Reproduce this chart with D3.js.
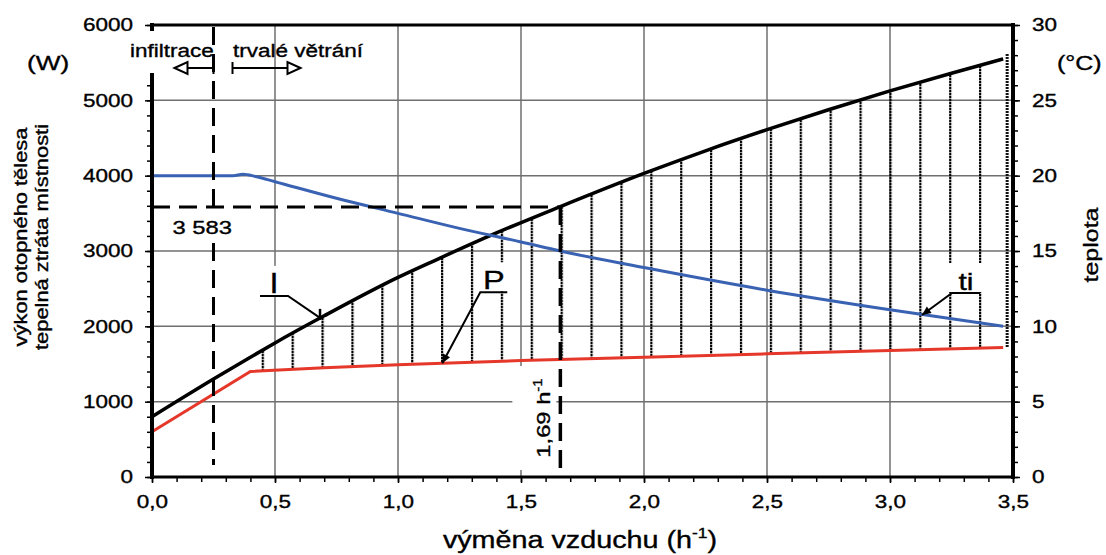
<!DOCTYPE html>
<html>
<head>
<meta charset="utf-8">
<script src="https://cdn.jsdelivr.net/npm/d3@7"></script>
<style>
  body { margin: 0; background: #fff; }
  svg { display: block; font-family: "Liberation Sans", Arial, sans-serif; }
  svg text { stroke: #000; stroke-width: 0.35; }
</style>
</head>
<body>
<svg id="chart" width="1106" height="555"></svg>
<script>
// --- data ---
// heat loss of the room (W), black curve "l"
const lossX = [0, 0.25, 0.4, 0.5, 0.7, 1.0, 1.16, 1.4, 1.66, 2.0, 2.25, 2.5, 2.75, 3.0, 3.25, 3.46];
const lossW = [800, 1300, 1590, 1780, 2140, 2650, 2890, 3240, 3590, 4030, 4330, 4610, 4875, 5125, 5360, 5550];
// output of the heating body (W), red curve "P"
const powerX = [0, 0.4, 0.7, 1.0, 1.5, 2.0, 2.5, 3.0, 3.46];
const powerW = [600, 1400, 1450, 1490, 1545, 1590, 1635, 1680, 1720];
// indoor temperature (°C), blue curve "ti"
const tempX = [0, 0.33, 0.37, 0.42, 0.5, 0.75, 1.0, 1.25, 1.5, 1.66, 2.0, 2.5, 3.0, 3.46];
const tempC = [20, 20, 20.1, 19.95, 19.6, 18.5, 17.5, 16.5, 15.6, 15.0, 13.9, 12.4, 11.1, 10.0];

const xTicks = [0, 0.5, 1, 1.5, 2, 2.5, 3, 3.5];
const wTicks = [0, 1000, 2000, 3000, 4000, 5000, 6000];
const cTicks = [0, 5, 10, 15, 20, 25, 30];

const infiltrLimit = 0.25;   // border infiltration / ventilation
const designRate = 1.66;     // where the dashed design line is drawn
const designLabel = '1,69';
const designLoad = 3583;
const hatchStart = 0.45, hatchStep = 0.1215;

// callouts: label, x on curve, value on curve
const calloutL = { text: 'l', at: 0.683, v: 2112 };
const calloutP = { text: 'P', at: 1.18, v: 1510 };
const calloutT = { text: 'ti', at: 3.13, v: 10.75 };

// --- setup ---
const SX = 1.25; // the lettering in the source is set wide
const svg = d3.select('#chart');
const x = d3.scaleLinear().domain([0, 3.5]).range([152, 1013]);
const y = d3.scaleLinear().domain([0, 6000]).range([477, 25]);
const yT = d3.scaleLinear().domain([0, 30]).range([477, 25]);
const comma = d => d3.format('.1f')(d).replace('.', ',');

svg.append('rect').attr('width', 1106).attr('height', 555).attr('fill', '#fff');

function label(g, px, py, str, size, opts = {}) {
  return g.append('text')
    .attr('transform', `translate(${px},${py}) rotate(${opts.rot || 0}) scale(${SX},1)`)
    .attr('font-size', size)
    .attr('text-anchor', opts.anchor || 'start')
    .attr('fill', '#000')
    .text(str);
}

// --- grid ---
const grid = svg.append('g').attr('stroke', '#6f6f6f').attr('stroke-width', 1.5);
grid.selectAll('.gx').data(xTicks.slice(1, -1)).join('line')
  .attr('x1', d => x(d)).attr('x2', d => x(d)).attr('y1', y(6000)).attr('y2', y(0));
grid.selectAll('.gy').data(wTicks.slice(1, -1)).join('line')
  .attr('x1', x(0)).attr('x2', x(3.5)).attr('y1', d => y(d)).attr('y2', d => y(d));

// --- hatch between loss and power ---
const defs = svg.append('defs');
const step = x(hatchStep) - x(0);
defs.append('pattern').attr('id', 'hatch')
  .attr('patternUnits', 'userSpaceOnUse')
  .attr('x', x(hatchStart) - 1).attr('y', 0)
  .attr('width', step).attr('height', 3)
  .append('rect').attr('width', 2.2).attr('height', 2.4).attr('fill', '#000');

const lossPts = lossX.map((v, i) => [v, lossW[i]]);
const powerPts = powerX.map((v, i) => [v, powerW[i]]);
const band = lossPts.filter(d => d[0] >= 0.4).concat(powerPts.filter(d => d[0] >= 0.4).reverse());
svg.append('path')
  .attr('d', d3.line().x(d => x(d[0])).y(d => y(d[1]))(band) + 'Z')
  .attr('fill', 'url(#hatch)');
const lastL = lossPts[lossPts.length - 1], lastP = powerPts[powerPts.length - 1];
svg.append('line')
  .attr('x1', x(lastL[0]) + 4).attr('x2', x(lastL[0]) + 4)
  .attr('y1', y(lastL[1]) - 5).attr('y2', y(lastP[1]))
  .attr('stroke', '#111').attr('stroke-width', 3).attr('stroke-dasharray', '2,1');

// --- curves ---
svg.append('path')
  .attr('d', d3.line().x(d => x(d[0])).y(d => y(d[1]))(powerPts))
  .attr('fill', 'none').attr('stroke', '#e5372a').attr('stroke-width', 3);
svg.append('path')
  .attr('d', d3.line().curve(d3.curveMonotoneX).x(d => x(d[0])).y(d => y(d[1]))(lossPts))
  .attr('fill', 'none').attr('stroke', '#000').attr('stroke-width', 3.5);
svg.append('path')
  .attr('d', d3.line().curve(d3.curveMonotoneX).x((d, i) => x(d)).y((d, i) => yT(tempC[i]))(tempX))
  .attr('fill', 'none').attr('stroke', '#3a62b3').attr('stroke-width', 3);

// --- frame ---
const frame = svg.append('g').attr('stroke', '#000').attr('stroke-linecap', 'square');
frame.append('line').attr('x1', x(0)).attr('x2', x(3.5)).attr('y1', y(6000)).attr('y2', y(6000)).attr('stroke-width', 3);
frame.append('line').attr('x1', x(0)).attr('x2', x(3.5)).attr('y1', y(0)).attr('y2', y(0)).attr('stroke-width', 3);
frame.append('line').attr('x1', x(0)).attr('x2', x(0)).attr('y1', y(6000)).attr('y2', y(0)).attr('stroke-width', 4);
frame.append('line').attr('x1', x(3.5)).attr('x2', x(3.5)).attr('y1', y(6000)).attr('y2', y(0)).attr('stroke-width', 4);

// --- axes ---
function styleAxis(g, size) {
  g.select('.domain').remove();
  g.attr('font-family', null).attr('font-size', size);
  g.selectAll('line').attr('stroke', '#000').attr('stroke-width', 1.5);
}
svg.append('g').attr('transform', `translate(${x(0)},0)`)
  .call(d3.axisLeft(y).tickValues(d3.range(0, 6001, 200)).tickSize(5).tickFormat(''))
  .call(g => styleAxis(g, 18));
svg.append('g').attr('transform', `translate(${x(0)},0)`)
  .call(d3.axisLeft(y).tickValues(wTicks).tickSize(7).tickPadding(12).tickFormat(d3.format('d')))
  .call(g => styleAxis(g, 18))
  .call(g => g.selectAll('text').attr('transform', `scale(${SX},1)`).attr('x', -19 / SX));

svg.append('g').attr('transform', `translate(${x(3.5)},0)`)
  .call(d3.axisRight(yT).tickValues(d3.range(0, 31, 1)).tickSize(5).tickFormat(''))
  .call(g => styleAxis(g, 18));
svg.append('g').attr('transform', `translate(${x(3.5)},0)`)
  .call(d3.axisRight(yT).tickValues(cTicks).tickSize(7).tickPadding(12))
  .call(g => styleAxis(g, 18))
  .call(g => g.selectAll('text').attr('transform', `scale(${SX},1)`).attr('x', 19 / SX));

svg.append('g').attr('transform', `translate(0,${y(0)})`)
  .call(d3.axisBottom(x).tickValues(d3.range(0, 35.5, 1).map(d => d / 10)).tickSize(5).tickFormat(''))
  .call(g => styleAxis(g, 18));
svg.append('g').attr('transform', `translate(0,${y(0)})`)
  .call(d3.axisBottom(x).tickValues(xTicks).tickSize(6).tickPadding(12).tickFormat(comma))
  .call(g => styleAxis(g, 18))
  .call(g => g.selectAll('text').attr('transform', `scale(${SX},1)`));

// --- dashed guides ---
const dash = svg.append('g').attr('stroke', '#000').attr('stroke-width', 3).attr('stroke-dasharray', '18,9').attr('fill', 'none');
dash.append('line').attr('x1', x(infiltrLimit)).attr('x2', x(infiltrLimit)).attr('y1', y(6000) + 2).attr('y2', y(160));
dash.append('line').attr('x1', x(0)).attr('x2', x(designRate)).attr('y1', y(designLoad)).attr('y2', y(designLoad));

// --- white label boxes ---
const box = svg.append('g').attr('fill', '#fff');
box.append('rect').attr('x', 126).attr('y', 31).attr('width', 84).attr('height', 42);
box.append('rect').attr('x', x(infiltrLimit) - 45).attr('y', y(designLoad) + 5).attr('width', 80).attr('height', 30);
box.append('rect').attr('x', x(designRate) - 48).attr('y', 366).attr('width', 44).attr('height', 104);

const ann = svg.append('g');
// design rate line on top of its box
svg.append('line').attr('x1', x(designRate)).attr('x2', x(designRate))
  .attr('y1', y(designLoad)).attr('y2', y(0))
  .attr('stroke', '#000').attr('stroke-width', 3.5).attr('stroke-dasharray', '18,9');

// --- callouts ---
function callout(c, scale, dx, dy, len, size) {
  const ax = x(c.at), ay = scale(c.v);
  const ex = ax + dx, ey = ay + dy;
  const tx = ex + len / 2;
  ann.append('rect').attr('x', Math.min(ex, ex + len) - 4).attr('y', ey - 30)
    .attr('width', Math.abs(len) + 8).attr('height', 29).attr('fill', '#fff');
  ann.append('path')
    .attr('d', `M${ex + len},${ey}H${ex}L${ax},${ay}`)
    .attr('fill', 'none').attr('stroke', '#000').attr('stroke-width', 2);
  label(ann, tx, ey - 3, c.text, size, { anchor: 'middle' });
  return [ax, ay];
}
const pL = callout(calloutL, y, -32, -22, -28, 27);
ann.append('line').attr('x1', pL[0]).attr('x2', pL[0]).attr('y1', pL[1] - 9).attr('y2', pL[1] + 2)
  .attr('stroke', '#000').attr('stroke-width', 2.5);
const pP = callout(calloutP, y, 38, -71, 27, 26);
const pT = callout(calloutT, yT, 30, -22, 28, 24);
[[pP, [38, -71]], [pT, [30, -22]]].forEach(([p, d]) => {
  const a = Math.atan2(d[1], d[0]);
  const l = 9, w = 4;
  const bx = p[0] + Math.cos(a) * l, by = p[1] + Math.sin(a) * l;
  const nx = -Math.sin(a) * w, ny = Math.cos(a) * w;
  ann.append('path')
    .attr('d', `M${p[0]},${p[1]}L${bx + nx},${by + ny}L${bx - nx},${by - ny}Z`)
    .attr('fill', '#000');
});

// --- texts ---
const t = svg.append('g');
label(t, 130, 57, 'infiltrace', 18);
label(t, 233, 57, 'trvalé větrání', 18);
label(t, x(infiltrLimit) - 41, y(designLoad) + 27, d3.format(',')(designLoad).replace(',', ' '), 19);

const r = label(t, x(designRate) - 10, 418, '', 19, { rot: -90, anchor: 'middle' });
r.append('tspan').text(designLabel + ' h');
r.append('tspan').attr('font-size', 12).attr('dy', -8).text('-1');

const xt = label(t, 580, 548, '', 23, { anchor: 'middle' });
xt.append('tspan').text('výměna vzduchu (h');
xt.append('tspan').attr('font-size', 14).attr('dy', -10).text('-1');
xt.append('tspan').attr('dy', 10).text(')');

label(t, 27, 70, '(W)', 21);
label(t, 1057, 70, '(°C)', 20);
label(t, 27, 237, 'výkon otopného tělesa', 17.5, { rot: -90, anchor: 'middle' });
label(t, 48, 237, 'tepelná ztráta místnosti', 17.5, { rot: -90, anchor: 'middle' });
label(t, 1098, 245, 'teplota', 20, { rot: -90, anchor: 'middle' });

// --- infiltration / ventilation arrows ---
const ar = svg.append('g').attr('stroke', '#000').attr('stroke-width', 2);
const x0 = x(infiltrLimit), ay = 68;
ar.append('line').attr('x1', x0).attr('x2', x0).attr('y1', ay - 6).attr('y2', ay + 6);
ar.append('line').attr('x1', x0).attr('x2', x0 - 26).attr('y1', ay).attr('y2', ay);
ar.append('path').attr('d', `M${x0 - 39},${ay}L${x0 - 26},${ay - 6}L${x0 - 26},${ay + 6}Z`).attr('fill', '#fff');
const x1 = x0 + 19;
ar.append('line').attr('x1', x1).attr('x2', x1).attr('y1', ay - 6).attr('y2', ay + 6);
ar.append('line').attr('x1', x1).attr('x2', x1 + 55).attr('y1', ay).attr('y2', ay);
ar.append('path').attr('d', `M${x1 + 68},${ay}L${x1 + 55},${ay - 6}L${x1 + 55},${ay + 6}Z`).attr('fill', '#fff');
</script>
</body>
</html>
